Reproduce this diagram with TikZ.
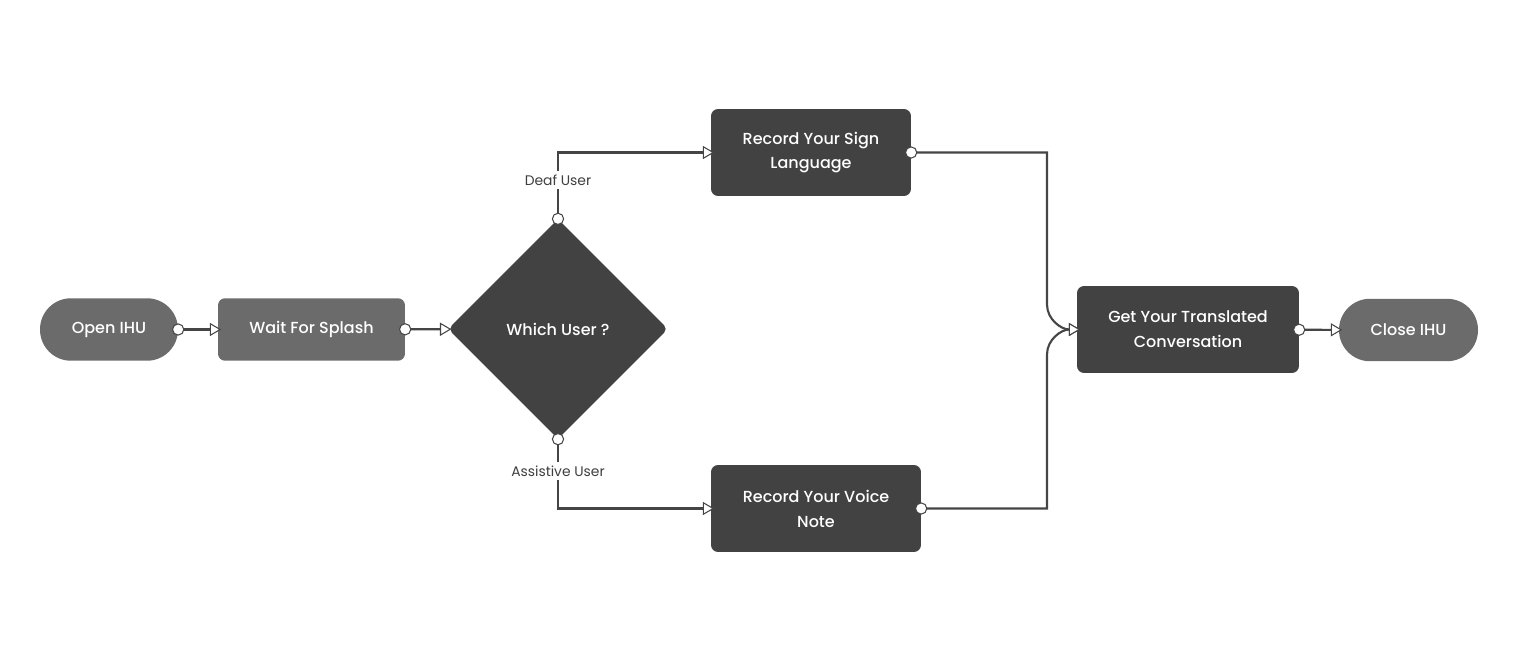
\documentclass[tikz,border=0pt]{standalone}
\usepackage{fontspec}
\setmainfont{Poppins}[BoldFont={Poppins Medium}]
\usetikzlibrary{arrows.meta, calc, positioning, shapes.geometric}
\definecolor{stepgray}{HTML}{6B6B6B}
\definecolor{darkgray}{HTML}{424242}
\definecolor{linegray}{HTML}{454545}
\definecolor{labelgray}{HTML}{3F3F3F}

\tikzset{
  terminal/.style={fill=stepgray, rounded corners=0.62cm, minimum height=1.25cm, inner sep=0pt, text=white, font=\fontsize{9.1}{13}\selectfont\bfseries},
  stepbox/.style={fill=stepgray, rounded corners=4pt, minimum height=1.25cm, inner sep=0pt, text=white, font=\fontsize{9.1}{13}\selectfont\bfseries},
  taskbox/.style={fill=darkgray, rounded corners=4pt, minimum height=1.74cm, inner sep=0pt, align=center, text=white, font=\fontsize{9.1}{14.2}\selectfont\bfseries},
  decision/.style={diamond, fill=darkgray, rounded corners=3pt, minimum width=4.4cm, minimum height=4.4cm, inner sep=0pt, text=white, font=\fontsize{9.1}{13}\selectfont\bfseries},
  flow/.style={draw=linegray, line width=1.2pt, shorten <=-3.6pt, shorten >=-2pt,
    {Circle[fill=white, line width=0.6pt, length=7pt, width=7pt]}-{Triangle[fill=white, length=6.5pt, width=7.5pt, line width=0.6pt]}},
  userlabel/.style={fill=white, text=labelgray, inner sep=2pt, font=\fontsize{7.9}{9}\selectfont}
}

\begin{document}
\begin{tikzpicture}[x=0.02cm, y=-0.02cm]
  \useasboundingbox (0,0) rectangle (1518,662);

  % Start and splash
  \node[terminal, minimum width=2.76cm] (open) at (109,329.5) {Open IHU};
  \node[stepbox, minimum width=3.74cm] (splash) at (311.5,329.5) {Wait For Splash};

  % Decision
  \node[decision] (which) at (558,329) {Which User ?};

  % Recording tasks
  \node[taskbox, minimum width=4cm] (sign) at (811,152.5) {Record Your Sign\\Language};
  \node[taskbox, minimum width=4.2cm] (voice) at (816,508.5) {Record Your Voice\\Note};

  % Result and end
  \node[taskbox, minimum width=4.44cm] (result) at (1188,329.5) {Get Your Translated\\Conversation};
  \node[terminal, minimum width=2.78cm] (close) at (1408.5,330) {Close IHU};
  \coordinate (join) at (1047,329.5);

  % Connectors
  \draw[flow] (open) -- (splash);
  \draw[flow] (splash) -- (which);
  \draw[flow] (which.north) |- node[userlabel, pos=0.29] {Deaf User} (sign.west);
  \draw[flow] (which.south) |- node[userlabel, pos=0.23] {Assistive User} (voice.west);
  \draw[flow] (sign.east) -| ($(join)+(0,-25)$) to[out=-90, in=180] (result.west);
  \draw[flow] (voice.east) -| ($(join)+(0,25)$) to[out=90, in=180] (result.west);
  \draw[flow] (result) -- (close);
\end{tikzpicture}
\end{document}
